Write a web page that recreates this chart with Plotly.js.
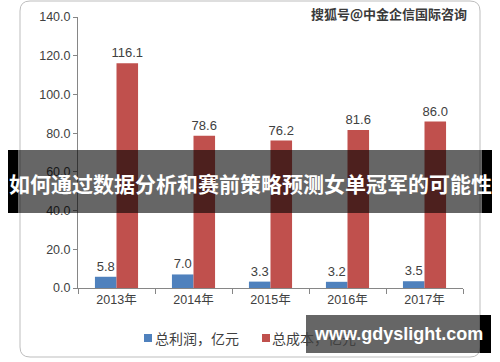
<!DOCTYPE html>
<html>
<head>
<meta charset="utf-8">
<script src="https://cdn.plot.ly/plotly-3.0.1.min.js"></script>
<style>
html,body{margin:0;padding:0;background:#fff;}
#chart{width:500px;height:362px;}
</style>
</head>
<body>
<div id="chart"></div>
<script>
// ---- data ----
const years = ["2013年", "2014年", "2015年", "2016年", "2017年"];
const profit = [5.8, 7.0, 3.3, 3.2, 3.5];
const cost = [116.1, 78.6, 76.2, 81.6, 86.0];
const seriesNames = ["总利润，亿元", "总成本，亿元"];
const seriesColors = ["#4F81BD", "#C0504D"];
const bannerText = "如何通过数据分析和赛前策略预测女单冠军的可能性";
const siteText = "www.gdyslight.com";
const watermarkText = "搜狐号@中金企信国际咨询";

// ---- layout geometry (pixels) ----
const W = 500, H = 362;
const M = {l: 78, r: 37, t: 17, b: 74};
const PW = W - M.l - M.r, PH = H - M.t - M.b;
const X = px => (px - M.l) / PW;
const Y = py => (H - M.b - py) / PH;

const font = "Liberation Sans, Arial, Noto Sans CJK SC, sans-serif";
const cjk = "Noto Sans CJK SC, sans-serif";
const textCol = "#404040";

function roundRect(x0, y0, x1, y1, r) {
  return `M ${X(x0 + r)},${Y(y0)} L ${X(x1 - r)},${Y(y0)} Q ${X(x1)},${Y(y0)} ${X(x1)},${Y(y0 + r)} ` +
         `L ${X(x1)},${Y(y1 - r)} Q ${X(x1)},${Y(y1)} ${X(x1 - r)},${Y(y1)} ` +
         `L ${X(x0 + r)},${Y(y1)} Q ${X(x0)},${Y(y1)} ${X(x0)},${Y(y1 - r)} ` +
         `L ${X(x0)},${Y(y0 + r)} Q ${X(x0)},${Y(y0)} ${X(x0 + r)},${Y(y0)} Z`;
}
function rect(x0, y0, x1, y1, color, layer) {
  return {type: "rect", xref: "paper", yref: "paper", layer: layer || "above",
          x0: X(x0), x1: X(x1), y0: Y(y1), y1: Y(y0),
          fillcolor: color, line: {width: 0}};
}

const traces = [profit, cost].map((vals, i) => ({
  type: "bar", name: seriesNames[i], x: years, y: vals,
  marker: {color: seriesColors[i]}, text: vals.map(v => v.toFixed(1)),
  textposition: "outside", cliponaxis: false, constraintext: "none",
  textfont: {family: font, size: 13, color: textCol}
}));

// custom legend (square swatch directly next to text, as in the reference)
const legendPos = [{sx: 144, tx: 153}, {sx: 262, tx: 270}];
const legendShapes = legendPos.map((p, i) => rect(p.sx, 334, p.sx + 8, 342, seriesColors[i], "below"));
const legendAnn = legendPos.map((p, i) => ({
  xref: "paper", yref: "paper", x: X(p.tx), y: Y(338), xanchor: "left", yanchor: "middle",
  text: seriesNames[i], showarrow: false,
  font: {family: cjk, size: 14, color: textCol}
}));

const layout = {
  width: W, height: H,
  margin: M,
  paper_bgcolor: "#ffffff", plot_bgcolor: "#ffffff",
  barmode: "group", bargap: 0.44, bargroupgap: 0,
  font: {family: font, size: 12, color: textCol},
  showlegend: false,
  xaxis: {showline: true, linecolor: "#868686", linewidth: 1,
          ticks: "outside", tickson: "boundaries", ticklen: 5, tickcolor: "#868686",
          tickfont: {family: font, size: 12.5, color: textCol}, showgrid: false,
          zeroline: false, fixedrange: true},
  yaxis: {range: [0, 140], dtick: 20, tickformat: ".1f", showline: true,
          linecolor: "#868686", linewidth: 1, ticks: "outside", ticklen: 4,
          tickcolor: "#868686", showgrid: false, zeroline: false,
          tickfont: {family: font, size: 12.5, color: textCol}, fixedrange: true},
  shapes: [
    {type: "path", xref: "paper", yref: "paper", layer: "below",
     path: roundRect(20, 1, 480, 357, 10), line: {color: "#bdbdbd", width: 1},
     fillcolor: "rgba(0,0,0,0)"},
    ...legendShapes,
    rect(8, 150, 18, 213, "#000000"),
    rect(482, 150, 492, 213, "#000000"),
    rect(18, 150, 482, 213, "rgba(0,0,0,0.6)"),
    rect(306, 315, 480, 353, "rgba(0,0,0,0.6)"),
    rect(480, 315, 491, 353, "#000000")
  ],
  annotations: [
    ...legendAnn,
    {xref: "paper", yref: "paper", x: X(250), y: Y(183), xanchor: "center", yanchor: "middle",
     text: bannerText, showarrow: false,
     font: {family: cjk, size: 21, color: "#ffffff", weight: "bold"}},
    {xref: "paper", yref: "paper", x: X(398), y: Y(334), xanchor: "center", yanchor: "middle",
     text: siteText, showarrow: false,
     font: {family: "Liberation Sans, Arial, sans-serif", size: 18, color: "#ffffff", weight: "bold"}},
    {xref: "paper", yref: "paper", x: X(469), y: Y(14), xanchor: "right", yanchor: "middle",
     text: watermarkText, showarrow: false,
     font: {family: cjk, size: 13, color: "#3a3a3a", weight: "bold",
            shadow: "1px 1px 1px #fff, -1px -1px 1px #fff"}}
  ]
};

Plotly.newPlot("chart", traces, layout, {displayModeBar: false, staticPlot: true});
</script>
</body>
</html>
